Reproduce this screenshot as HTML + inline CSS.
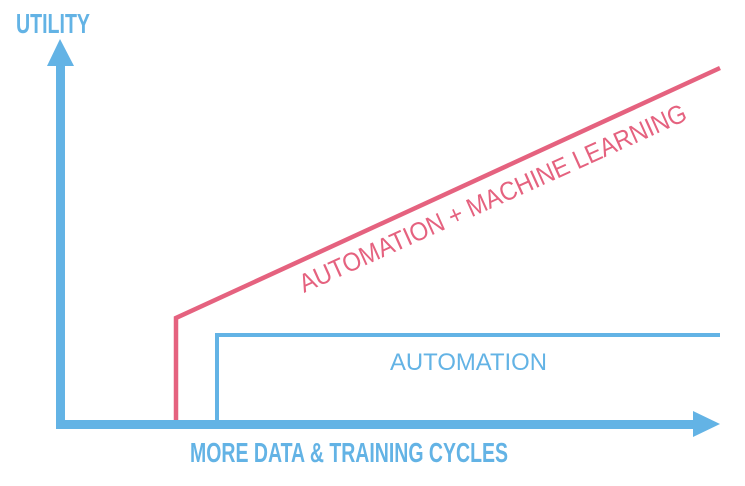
<!DOCTYPE html>
<html><head><style>html,body{margin:0;padding:0;background:#fff;}</style></head>
<body>
<svg width="745" height="481" viewBox="0 0 745 481" xmlns="http://www.w3.org/2000/svg">
<g fill="#63b3e5" stroke="none">
  <rect x="56" y="62" width="9" height="366"/>
  <polygon points="60,39 47,66 74,66"/>
  <rect x="56" y="420" width="642" height="9"/>
  <polygon points="720,424 693,411 693,437"/>
</g>
<polyline points="176,420 176,318 720,68" fill="none" stroke="#e5627f" stroke-width="4.5"/>
<polyline points="217,420 217,335 720,335" fill="none" stroke="#63b3e5" stroke-width="4"/>
<text x="16" y="33" font-family="Liberation Sans, sans-serif" font-weight="bold" font-size="28" fill="#63b3e5" textLength="74" lengthAdjust="spacingAndGlyphs">UTILITY</text>
<text x="190" y="462" font-family="Liberation Sans, sans-serif" font-weight="bold" font-size="28" fill="#63b3e5" textLength="318" lengthAdjust="spacingAndGlyphs">MORE DATA &amp; TRAINING CYCLES</text>
<text x="390" y="370" font-family="Liberation Sans, sans-serif" font-size="24" fill="#63b3e5" textLength="157" lengthAdjust="spacingAndGlyphs">AUTOMATION</text>
<text transform="translate(304,293) rotate(-24.3)" x="0" y="0" font-family="Liberation Sans, sans-serif" font-size="26" fill="#e5627f" textLength="422" lengthAdjust="spacingAndGlyphs">AUTOMATION + MACHINE LEARNING</text>
</svg>
</body></html>
